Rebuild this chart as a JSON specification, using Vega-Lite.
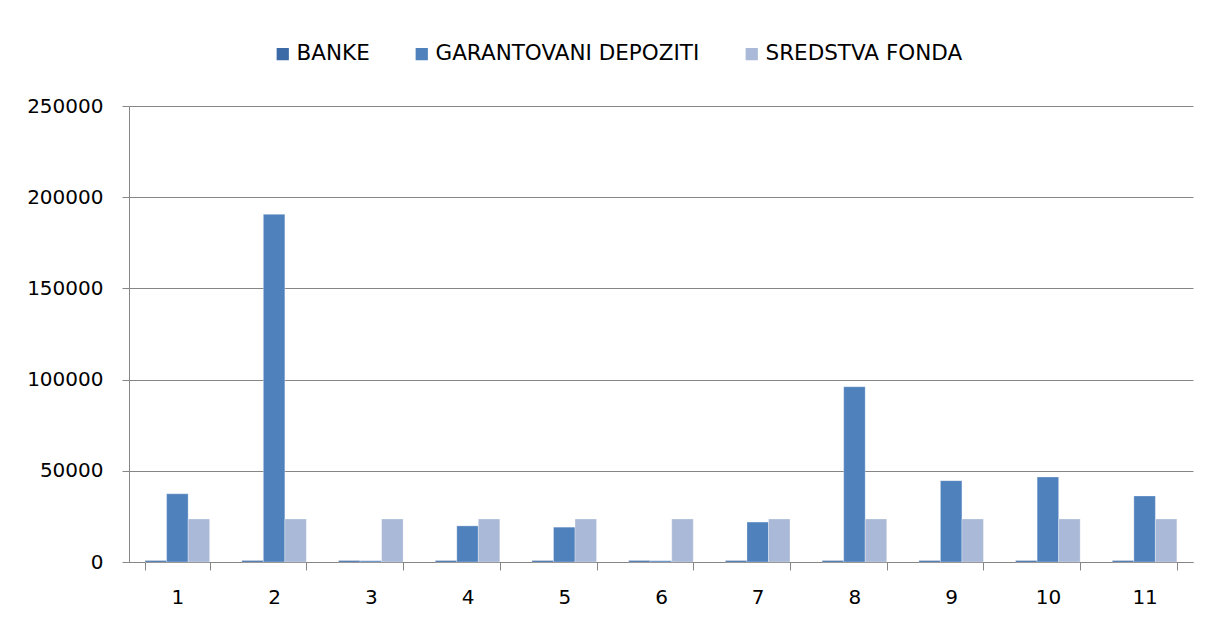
{
  "$schema": "https://vega.github.io/schema/vega-lite/v6.json",
  "autosize": {"type": "none"},
  "width": 1064,
  "height": 456,
  "padding": {"left": 129, "top": 106, "right": 18, "bottom": 60},
  "background": "white",
  "data": {
    "values": [
      {"k": "1", "s": "BANKE", "v": 800}, {"k": "1", "s": "GARANTOVANI DEPOZITI", "v": 37400}, {"k": "1", "s": "SREDSTVA FONDA", "v": 23600},
      {"k": "2", "s": "BANKE", "v": 800}, {"k": "2", "s": "GARANTOVANI DEPOZITI", "v": 190600}, {"k": "2", "s": "SREDSTVA FONDA", "v": 23600},
      {"k": "3", "s": "BANKE", "v": 800}, {"k": "3", "s": "GARANTOVANI DEPOZITI", "v": 700}, {"k": "3", "s": "SREDSTVA FONDA", "v": 23600},
      {"k": "4", "s": "BANKE", "v": 800}, {"k": "4", "s": "GARANTOVANI DEPOZITI", "v": 19800}, {"k": "4", "s": "SREDSTVA FONDA", "v": 23600},
      {"k": "5", "s": "BANKE", "v": 800}, {"k": "5", "s": "GARANTOVANI DEPOZITI", "v": 19100}, {"k": "5", "s": "SREDSTVA FONDA", "v": 23600},
      {"k": "6", "s": "BANKE", "v": 800}, {"k": "6", "s": "GARANTOVANI DEPOZITI", "v": 700}, {"k": "6", "s": "SREDSTVA FONDA", "v": 23600},
      {"k": "7", "s": "BANKE", "v": 800}, {"k": "7", "s": "GARANTOVANI DEPOZITI", "v": 21900}, {"k": "7", "s": "SREDSTVA FONDA", "v": 23600},
      {"k": "8", "s": "BANKE", "v": 800}, {"k": "8", "s": "GARANTOVANI DEPOZITI", "v": 96100}, {"k": "8", "s": "SREDSTVA FONDA", "v": 23600},
      {"k": "9", "s": "BANKE", "v": 800}, {"k": "9", "s": "GARANTOVANI DEPOZITI", "v": 44600}, {"k": "9", "s": "SREDSTVA FONDA", "v": 23600},
      {"k": "10", "s": "BANKE", "v": 800}, {"k": "10", "s": "GARANTOVANI DEPOZITI", "v": 46600}, {"k": "10", "s": "SREDSTVA FONDA", "v": 23600},
      {"k": "11", "s": "BANKE", "v": 800}, {"k": "11", "s": "GARANTOVANI DEPOZITI", "v": 36200}, {"k": "11", "s": "SREDSTVA FONDA", "v": 23600}
    ]
  },
  "mark": {"type": "bar", "stroke": "white", "strokeWidth": 0.6, "strokeOpacity": 0.5},
  "encoding": {
    "x": {
      "field": "k", "type": "ordinal", "sort": null,
      "scale": {"paddingInner": 0.333, "paddingOuter": 0.1667},
      "axis": {
        "title": null, "labelAngle": 0, "grid": false,
        "tickBand": "extent", "tickSize": 8, "tickColor": "#868686", "domainColor": "#868686",
        "labelFont": "DejaVu Sans", "labelFontSize": 20, "labelColor": "#000000", "labelPadding": 17
      }
    },
    "xOffset": {"field": "s", "type": "nominal", "sort": ["BANKE", "GARANTOVANI DEPOZITI", "SREDSTVA FONDA"]},
    "y": {
      "field": "v", "type": "quantitative",
      "scale": {"domain": [0, 250000], "nice": false},
      "axis": {
        "title": null, "values": [0, 50000, 100000, 150000, 200000, 250000], "format": "d",
        "gridColor": "#868686", "gridWidth": 1, "tickColor": "#868686", "tickSize": 7,
        "domainColor": "#868686", "labelFont": "DejaVu Sans", "labelFontSize": 20,
        "labelColor": "#000000", "labelPadding": 19
      }
    },
    "color": {
      "field": "s", "type": "nominal",
      "scale": {"domain": ["BANKE", "GARANTOVANI DEPOZITI", "SREDSTVA FONDA"], "range": ["#3C6AA6", "#4F81BD", "#AAB9D7"]},
      "legend": {
        "title": null, "orient": "none", "direction": "horizontal",
        "legendX": 143, "legendY": -63,
        "symbolType": "square", "symbolSize": 150, "symbolStrokeWidth": 0,
        "labelFont": "DejaVu Sans", "labelFontSize": 21.5, "labelColor": "#000000",
        "labelLimit": 500, "columnPadding": 41, "labelOffset": 3
      }
    }
  },
  "config": {"view": {"stroke": null}, "axis": {"domainWidth": 1, "tickWidth": 1}}
}
